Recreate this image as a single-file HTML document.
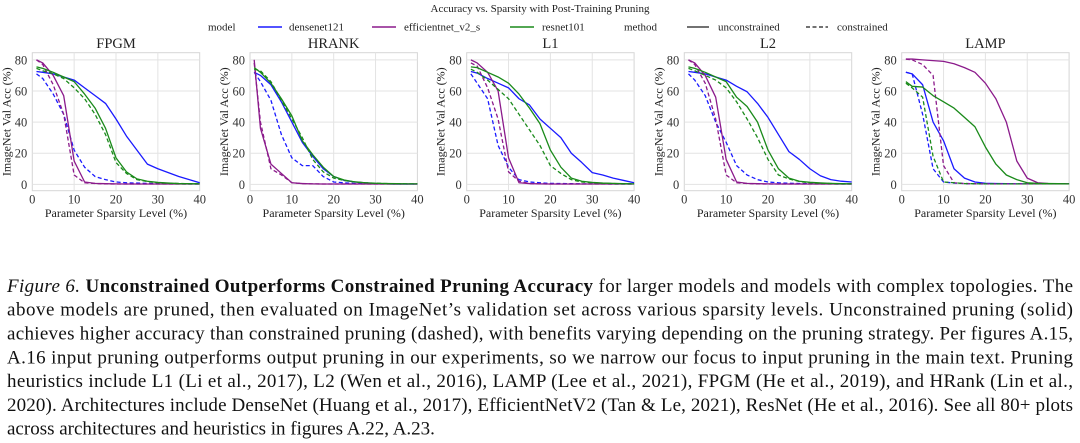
<!DOCTYPE html>
<html><head><meta charset="utf-8"><style>
html,body{margin:0;padding:0;background:#fff;}
svg{display:block;}
svg, svg text{font-family:"Liberation Serif", "DejaVu Serif", serif;}
</style></head><body>
<svg id="fig" width="1080" height="443" viewBox="0 0 1080 443" xmlns="http://www.w3.org/2000/svg">
<text x="540" y="12" font-size="11" text-anchor="middle" fill="#222">Accuracy vs. Sparsity with Post-Training Pruning</text>
<g id="legend" fill="#222"></g>
<g id="panels"></g>
<g font-size="19" fill="#111">
<text x="7" y="292" textLength="1066" lengthAdjust="spacing"><tspan font-style="italic">Figure 6.</tspan> <tspan font-weight="bold">Unconstrained Outperforms Constrained Pruning Accuracy</tspan> for larger models and models with complex topologies. The</text>
<text x="7" y="315.7" textLength="1066" lengthAdjust="spacing">above models are pruned, then evaluated on ImageNet’s validation set across various sparsity levels. Unconstrained pruning (solid)</text>
<text x="7" y="339.5" textLength="1066" lengthAdjust="spacing">achieves higher accuracy than constrained pruning (dashed), with benefits varying depending on the pruning strategy. Per figures A.15,</text>
<text x="7" y="363.3" textLength="1066" lengthAdjust="spacing">A.16 input pruning outperforms output pruning in our experiments, so we narrow our focus to input pruning in the main text. Pruning</text>
<text x="7" y="387" textLength="1066" lengthAdjust="spacing">heuristics include L1 (Li et al., 2017), L2 (Wen et al., 2016), LAMP (Lee et al., 2021), FPGM (He et al., 2019), and HRank (Lin et al.,</text>
<text x="7" y="410.8" textLength="1066" lengthAdjust="spacing">2020). Architectures include DenseNet (Huang et al., 2017), EfficientNetV2 (Tan &amp; Le, 2021), ResNet (He et al., 2016). See all 80+ plots</text>
<text x="7" y="434.5">across architectures and heuristics in figures A.22, A.23.</text>
</g>
</svg>
<script>
const sparsity = [1,2.5,5,7.5,10,12.5,15,17.5,20,22.5,25,27.5,30,32.5,35,37.5,40];
const panelTitles = ["FPGM","HRANK","L1","L2","LAMP"];
const xTicks = [0,10,20,30,40];
const yTicks = [0,20,40,60,80];
// densenet121
const densenetSolid = [
 [72.5,72,71,69,67,62,57,52,42,31,22,13,10,7.5,5,3,1],
 [72,70,64,53,40,27,18,10,5,2.5,1.5,1,0.5,0.3,0.2,0.2,0.2],
 [72.5,71.5,68,65,62,55,51,42,36,30,20,14,7.5,6,4,2.5,1],
 [72.5,72,71,69,67,63,59.5,52,43,32,21,16,10,5.5,3,2,1.5],
 [72,71,64,40,28,10,4,1.5,0.7,0.5,0.4,0.3,0.3,0.3,0.3,0.3,0.3]];
const densenetDashed = [
 [71,68,58,45,22,11,5,3,1.5,1,0.8,0.6,0.5,0.4,0.3,0.2,0.2],
 [72,66,54,32,17,12,12,5,1.5,1,0.5,0.4,0.3,0.3,0.2,0.2,0.2],
 [71,65,55,25,11,3,1.5,1,0.6,0.5,0.4,0.3,0.3,0.3,0.2,0.2,0.2],
 [71,67,57,40,27,12,6,3,1.5,1,0.7,0.5,0.4,0.3,0.3,0.2,0.2],
 [72,71,45,10,1.5,0.8,0.5,0.4,0.3,0.3,0.3,0.3,0.3,0.3,0.3,0.3,0.3]];
// efficientnet_v2_s
const effnetSolid = [
 [80,78,70,57,15,1.5,0.6,0.4,0.3,0.2,0.2,0.2,0.2,0.2,0.2,0.2,0.2],
 [80,36,13,7,1,0.5,0.3,0.2,0.2,0.2,0.2,0.2,0.2,0.2,0.2,0.2,0.2],
 [80,78,72,60,17,1,0.5,0.3,0.2,0.2,0.2,0.2,0.2,0.2,0.2,0.2,0.2],
 [80,78,70,56,16,1.5,0.6,0.4,0.3,0.2,0.2,0.2,0.2,0.2,0.2,0.2,0.2],
 [80.5,80.5,80,79.5,79,77.5,75,72,65,55,40,15,4,1,0.5,0.4,0.3]];
const effnetDashed = [
 [80,77,64,45,6,1,0.5,0.3,0.2,0.2,0.2,0.2,0.2,0.2,0.2,0.2,0.2],
 [78,40,10,6,1,0.5,0.3,0.2,0.2,0.2,0.2,0.2,0.2,0.2,0.2,0.2,0.2],
 [78,76,62,42,8,2,0.5,0.3,0.2,0.2,0.2,0.2,0.2,0.2,0.2,0.2,0.2],
 [80,77,65,42,6,1,0.5,0.3,0.2,0.2,0.2,0.2,0.2,0.2,0.2,0.2,0.2],
 [80.5,80,77,70,12,1,0.5,0.4,0.3,0.3,0.3,0.3,0.3,0.3,0.3,0.3,0.3]];
// resnet101
const resnetSolid = [
 [75.5,74.5,72,69,66,58,49,36,17,8,3.5,2,1.2,0.8,0.5,0.4,0.3],
 [75,72,65,55,44,28,19,11,5,2.8,1.6,1,0.7,0.5,0.4,0.3,0.3],
 [75.5,75,72,69,65,58,49,39,22,11,4,2,1.2,0.8,0.6,0.4,0.3],
 [75.5,74.5,72,69,66,56,50,40,22,10,4,2,1.3,0.9,0.6,0.4,0.3],
 [66,63,62.5,57,53,49,43,37,24,13,6,3,1,0.6,0.5,0.4,0.3]];
const resnetDashed = [
 [74.5,73,71,68,62,55,45,32,14,7,3,1.8,1,0.7,0.5,0.4,0.3],
 [74,73,66,54,42,30,16,8,4,2.5,1.5,1,0.7,0.5,0.4,0.3,0.3],
 [74,72,67,61,55,45,35,25,12,7,3,1.5,1,0.7,0.5,0.4,0.3],
 [74.5,73,70,67,62,53,42,30,16,6,3.5,1.8,1,0.7,0.5,0.4,0.3],
 [65,62,56,18,1.5,1,0.5,0.4,0.3,0.3,0.3,0.3,0.3,0.3,0.3,0.3,0.3]];

const NS="http://www.w3.org/2000/svg";
function mk(tag, attrs, parent){const e=document.createElementNS(NS,tag);for(const k in attrs)e.setAttribute(k,attrs[k]);if(parent)parent.appendChild(e);return e;}
const panelLefts=[32.3,250,466.7,684.3,901.7];
const PW=167.4, TOP=52.7, BOT=190.7, YMIN=-4.1, YMAX=84.6;
const panels=document.getElementById('panels');
const seriesDefs=[
 {name:'densenet', color:'#1a1aff', solid:densenetSolid, dashed:densenetDashed},
 {name:'efficientnet', color:'#8b1a8b', solid:effnetSolid, dashed:effnetDashed},
 {name:'resnet', color:'#1a8a1a', solid:resnetSolid, dashed:resnetDashed}];
panelTitles.forEach((t,i)=>{
  const L=panelLefts[i];
  const sx=v=>L+v/40*PW;
  const sy=v=>BOT-(v-YMIN)/(YMAX-YMIN)*(BOT-TOP);
  const g=mk('g',{},panels);
  
  
  const bg=mk('rect',{x:L,y:TOP,width:PW,height:BOT-TOP,fill:'#fff',stroke:'#d6d6d6','stroke-width':1},g);
  
  
  xTicks.forEach(v=>{
    if(v>0&&v<40){const l=mk('line',{x1:sx(v),x2:sx(v),y1:TOP,y2:BOT,stroke:'#e3e3e3','stroke-width':1},g);
    
    }
    const tx=mk('text',{x:sx(v),y:BOT+13,'font-size':12.5,'text-anchor':'middle',fill:'#333'},g);tx.textContent=v;
    
    
  });
  yTicks.forEach(v=>{
    const l=mk('line',{x1:L,x2:L+PW,y1:sy(v),y2:sy(v),stroke:'#e3e3e3','stroke-width':1},g);
    
    
    const tx=mk('text',{x:L-5,y:sy(v)+4.5,'font-size':12.5,'text-anchor':'end',fill:'#333'},g);tx.textContent=v;
    
    
  });
  const ti=mk('text',{x:L+PW/2,y:48,'font-size':14.5,'text-anchor':'middle',fill:'#222'},g);ti.textContent=t;
  
  
  const xl=mk('text',{x:L+PW/2,y:217,'font-size':12,'text-anchor':'middle',fill:'#222'},g);xl.textContent='Parameter Sparsity Level (%)';
  
  
  const yx=L-22, yy=(TOP+BOT)/2;
  const yl=mk('text',{x:yx,y:yy,'font-size':12,'text-anchor':'middle',fill:'#222',transform:`rotate(-90 ${yx} ${yy})`},g);yl.textContent='ImageNet Val Acc (%)';
  
  
  seriesDefs.forEach(s=>{
    [['solid',null],['dashed','4 2.5']].forEach(([kind,dash])=>{
      const vals=s[kind][i];
      const d=vals.map((v,k)=>(k?'L':'M')+sx(sparsity[k]).toFixed(2)+' '+sy(v).toFixed(2)).join(' ');
      const p=mk('path',{d:d,fill:'none',stroke:s.color,'stroke-width':1.3,'stroke-linejoin':'round'},g);
      if(dash)p.setAttribute('stroke-dasharray',dash);
      
      
    });
  });
});
// legend
const lg=document.getElementById('legend');
const items=[
 {t:'model',x:208},
 {t:'densenet121',x:289,line:[258,282],c:'#1a1aff'},
 {t:'efficientnet_v2_s',x:404,line:[372,396],c:'#8b1a8b'},
 {t:'resnet101',x:542,line:[510,534],c:'#1a8a1a'},
 {t:'method',x:624},
 {t:'unconstrained',x:718,line:[687,709],c:'#444'},
 {t:'constrained',x:837,line:[806,828],c:'#444',dash:'4 2.5'}];
items.forEach(it=>{
  if(it.line){const l=mk('line',{x1:it.line[0],x2:it.line[1],y1:27,y2:27,stroke:it.c,'stroke-width':1.4},lg);
    if(it.dash)l.setAttribute('stroke-dasharray',it.dash);
    
    }
  const tx=mk('text',{x:it.x,y:30.5,'font-size':11},lg);tx.textContent=it.t;
  
  
});
</script>
</body></html>
